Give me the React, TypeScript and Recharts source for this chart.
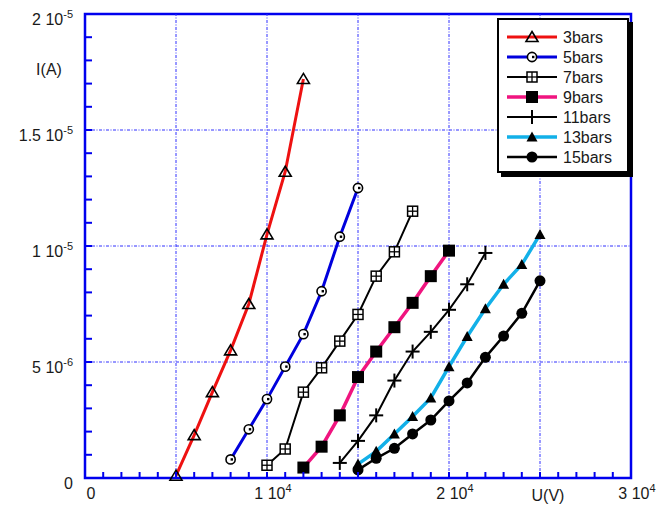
import React from 'react';
import { LineChart, Line, XAxis, YAxis, ReferenceLine, ReferenceArea, Legend } from 'recharts';

// ---- data (U in volts, I in microamps) ----
const u3 = [5000, 6000, 7000, 8000, 9000, 10000, 11000, 12000];
const i3 = [0.1, 1.85, 3.7, 5.5, 7.5, 10.5, 13.2, 17.2];
const u5 = [8000, 9000, 10000, 11000, 12000, 13000, 14000, 15000];
const i5 = [0.8, 2.1, 3.4, 4.8, 6.2, 8.05, 10.4, 12.5];
const u7 = [10000, 11000, 12000, 13000, 14000, 15000, 16000, 17000, 18000];
const i7 = [0.55, 1.25, 3.7, 4.75, 5.9, 7.05, 8.7, 9.75, 11.5];
const u9 = [12000, 13000, 14000, 15000, 16000, 17000, 18000, 19000, 20000];
const i9 = [0.45, 1.35, 2.7, 4.35, 5.45, 6.5, 7.55, 8.7, 9.8];
const u11 = [14000, 15000, 16000, 17000, 18000, 19000, 20000, 21000, 22000];
const i11 = [0.65, 1.6, 2.7, 4.2, 5.45, 6.3, 7.25, 8.35, 9.7];
const u13 = [15000, 16000, 17000, 18000, 19000, 20000, 21000, 22000, 23000, 24000, 25000];
const i13 = [0.6, 1.15, 1.9, 2.65, 3.45, 4.8, 6.1, 7.3, 8.35, 9.2, 10.5];
const u15 = [15000, 16000, 17000, 18000, 19000, 20000, 21000, 22000, 23000, 24000, 25000];
const i15 = [0.35, 0.85, 1.28, 1.9, 2.5, 3.32, 4.1, 5.2, 6.12, 7.1, 8.5];

const seriesNames = ['3bars', '5bars', '7bars', '9bars', '11bars', '13bars', '15bars'];

// ---- ticks / labels ----
const xTicks = Array.from({ length: 31 }, (_, i) => i * 1000);
const yTicks = Array.from({ length: 21 }, (_, i) => i * 1e-6);
const xLabels = [
  { v: 0, base: '0', exp: '' },
  { v: 10000, base: '1 10', exp: '4' },
  { v: 20000, base: '2 10', exp: '4' },
  { v: 30000, base: '3 10', exp: '4' },
];
const yLabels = [
  { v: 0, base: '0', exp: '' },
  { v: 5e-6, base: '5 10', exp: '-6' },
  { v: 1e-5, base: '1 10', exp: '-5' },
  { v: 1.5e-5, base: '1.5 10', exp: '-5' },
  { v: 2e-5, base: '2 10', exp: '-5' },
];
const xGrid = [5000, 10000, 15000, 20000, 25000];
const yGrid = [5e-6, 1e-5, 1.5e-5];

const toData = (u: number[], i: number[]) => u.map((x, k) => ({ x, y: i[k] * 1e-6 }));
const seriesData = [toData(u3, i3), toData(u5, i5), toData(u7, i7), toData(u9, i9), toData(u11, i11), toData(u13, i13), toData(u15, i15)];

const AXIS = '#0000ee';
const GRID = '#3030ff';
const FONT = '"Liberation Sans", Arial, sans-serif';
const TXT = '#1a1a1a';

const styles = [
  { color: '#ee1111', width: 3, shape: 'openTri' },
  { color: '#0000dd', width: 3, shape: 'openCircle' },
  { color: '#000000', width: 2, shape: 'gridSquare' },
  { color: '#f0147f', width: 3.5, shape: 'filledSquare' },
  { color: '#000000', width: 2, shape: 'plus' },
  { color: '#12b0e8', width: 3.5, shape: 'filledTri' },
  { color: '#000000', width: 2.5, shape: 'filledCircle' },
];

function Marker({ shape, cx, cy }: { shape: string; cx: number; cy: number }) {
  switch (shape) {
    case 'openTri':
      return <path d={`M${cx},${cy - 5.5} L${cx + 6},${cy + 4.5} L${cx - 6},${cy + 4.5} Z`} fill="none" stroke="#000" strokeWidth={1.6} />;
    case 'openCircle':
      return (
        <g>
          <circle cx={cx} cy={cy} r={4.6} fill="#fff" stroke="#000" strokeWidth={1.6} />
          <rect x={cx} y={cy - 1.2} width={2.4} height={2.4} fill="#000" />
        </g>
      );
    case 'gridSquare':
      return (
        <g>
          <rect x={cx - 5} y={cy - 5} width={10} height={10} fill="#fff" stroke="#000" strokeWidth={1.5} />
          <line x1={cx} x2={cx} y1={cy - 5} y2={cy + 5} stroke="#000" strokeWidth={1.3} />
          <line x1={cx - 5} x2={cx + 5} y1={cy} y2={cy} stroke="#000" strokeWidth={1.3} />
        </g>
      );
    case 'filledSquare':
      return <rect x={cx - 6} y={cy - 6} width={12} height={12} fill="#000" />;
    case 'plus':
      return (
        <g>
          <line x1={cx - 7} x2={cx + 7} y1={cy} y2={cy} stroke="#000" strokeWidth={2} />
          <line x1={cx} x2={cx} y1={cy - 7} y2={cy + 7} stroke="#000" strokeWidth={2} />
        </g>
      );
    case 'filledTri':
      return <path d={`M${cx},${cy - 5.5} L${cx + 5.5},${cy + 4.5} L${cx - 5.5},${cy + 4.5} Z`} fill="#000" />;
    case 'filledCircle':
    default:
      return <circle cx={cx} cy={cy} r={5.5} fill="#000" />;
  }
}

const XTick = (props: any) => {
  const { x, y, payload } = props;
  const lab = xLabels.find((l) => Math.abs(l.v - payload.value) < 1e-6);
  return (
    <g>
      <path d={`M${x},${y} L${x},${y - 6}`} stroke={AXIS} strokeWidth={2} fill="none" />
      {lab && (
        <text x={x + 6} y={y + 21} textAnchor="middle" fontFamily={FONT} fontSize={16} fill={TXT} stroke="none">
          {lab.base}
          {lab.exp && (
            <tspan dy={-7} fontSize={11}>
              {lab.exp}
            </tspan>
          )}
        </text>
      )}
    </g>
  );
};

const YTick = (props: any) => {
  const { x, y, payload } = props;
  const lab = yLabels.find((l) => Math.abs(l.v - payload.value) < 1e-12);
  return (
    <g>
      <path d={`M${x},${y} L${x + 7},${y}`} stroke={AXIS} strokeWidth={2} fill="none" />
      {lab && (
        <text x={x - 12} y={y + 11} textAnchor="end" fontFamily={FONT} fontSize={16} fill={TXT} stroke="none">
          {lab.base}
          {lab.exp && (
            <tspan dy={-7} fontSize={11}>
              {lab.exp}
            </tspan>
          )}
        </text>
      )}
    </g>
  );
};

const renderLegend = () => (
  <div
    style={{
      width: 128,
      height: 151,
      border: '2px solid #000',
      boxShadow: '4px 4px 0 #000',
      background: '#fff',
    }}
  >
    <svg width={128} height={151} style={{ display: 'block' }}>
      {seriesNames.map((name, i) => {
        const yy = 17 + i * 20;
        const st = styles[i];
        return (
          <g key={name}>
            <line x1={8} x2={58} y1={yy} y2={yy} stroke={st.color} strokeWidth={st.width} />
            <Marker shape={st.shape} cx={33} cy={yy} />
            <text x={64} y={yy + 6} fontFamily={FONT} fontSize={16} fill={TXT}>
              {name}
            </text>
          </g>
        );
      })}
    </svg>
  </div>
);

export default function App() {
  return (
    <div style={{ position: 'absolute', left: 0, top: 0, background: '#fff' }}>
      <LineChart width={657} height={520} margin={{ top: 14, right: 26, bottom: 0, left: 0 }}>
        {xGrid.map((v) => (
          <ReferenceLine key={'gx' + v} x={v} stroke={GRID} strokeWidth={1} strokeDasharray="3 1.5 1 1.5" />
        ))}
        {yGrid.map((v) => (
          <ReferenceLine key={'gy' + v} y={v} stroke={GRID} strokeWidth={1} strokeDasharray="3 1.5 1 1.5" />
        ))}
        <ReferenceArea x1={0} x2={30000} y1={0} y2={2e-5} fill="none" stroke={AXIS} strokeWidth={2.5} />
        <XAxis
          dataKey="x"
          type="number"
          domain={[0, 30000]}
          ticks={xTicks}
          interval={0}
          height={42}
          tickSize={0}
          tickMargin={0}
          tickLine={false}
          axisLine={false}
          tick={<XTick />}
          allowDuplicatedCategory={false}
          label={{
            content: (p: any) => {
              const vb = p.viewBox;
              return (
                <text x={vb.x + vb.width - 83} y={vb.y + 23} textAnchor="middle" fontFamily={FONT} fontSize={16} fill={TXT}>
                  U(V)
                </text>
              );
            },
          }}
        />
        <YAxis
          dataKey="y"
          type="number"
          domain={[0, 2e-5]}
          ticks={yTicks}
          interval={0}
          width={85}
          tickSize={0}
          tickMargin={0}
          tickLine={false}
          axisLine={false}
          tick={<YTick />}
          label={{
            content: (p: any) => {
              const vb = p.viewBox;
              return (
                <text x={49} y={vb.y + 61} textAnchor="middle" fontFamily={FONT} fontSize={16} fill={TXT}>
                  I(A)
                </text>
              );
            },
          }}
        />
        {seriesNames.map((name, i) => {
          const st = styles[i];
          return (
            <Line
              key={name}
              name={name}
              data={seriesData[i]}
              dataKey="y"
              type="linear"
              stroke={st.color}
              strokeWidth={st.width}
              isAnimationActive={false}
              dot={(p: any) => <Marker key={`${name}-${p.index}`} shape={st.shape} cx={p.cx} cy={p.cy} />}
              activeDot={false}
            />
          );
        })}
        <Legend
          layout="vertical"
          align="center"
          verticalAlign="middle"
          content={renderLegend}
          wrapperStyle={{ position: 'absolute', left: 497, top: 18, width: 132, height: 155 }}
        />
      </LineChart>
    </div>
  );
}
